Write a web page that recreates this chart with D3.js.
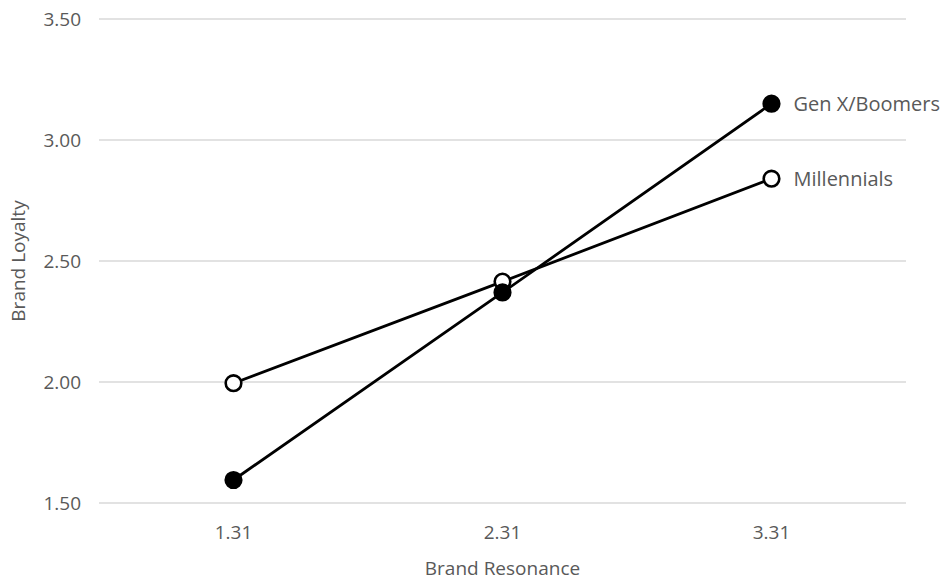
<!DOCTYPE html>
<html>
<head>
<meta charset="utf-8">
<script src="https://cdn.jsdelivr.net/npm/d3@7"></script>
<style>
body { margin: 0; background: #fff; }
text { font-family: "Open Sans", "Liberation Sans", sans-serif; fill: #595959; }
</style>
</head>
<body>
<div id="chart"></div>
<script>
var categories = ["1.31", "2.31", "3.31"];
var yTicks = [1.5, 2.0, 2.5, 3.0, 3.5];
var genX = [1.595, 2.37, 3.15];
var millennials = [1.995, 2.415, 2.84];

var series = [
    { name: "Millennials", values: millennials, fill: "#fff" },
    { name: "Gen X/Boomers", values: genX, fill: "#000" }
];

var width = 946, height = 580;
var margin = { left: 99, right: 40, top: 19, bottom: 77 };

var svg = d3.select("#chart").append("svg")
    .attr("width", width)
    .attr("height", height);

var x = d3.scaleBand()
    .domain(categories)
    .range([margin.left, width - margin.right]);

var y = d3.scaleLinear()
    .domain([1.5, 3.5])
    .range([height - margin.bottom, margin.top]);

// gridlines
svg.append("g")
    .selectAll("line")
    .data(yTicks)
    .enter().append("line")
    .attr("x1", margin.left)
    .attr("x2", width - margin.right)
    .attr("y1", function (d) { return y(d); })
    .attr("y2", function (d) { return y(d); })
    .attr("stroke", "#d9d9d9")
    .attr("stroke-width", 1.3);

// y tick labels
svg.append("g")
    .selectAll("text")
    .data(yTicks)
    .enter().append("text")
    .attr("x", 81)
    .attr("y", function (d) { return y(d); })
    .attr("dy", "0.35em")
    .attr("text-anchor", "end")
    .style("font-size", "19px")
    .text(function (d) { return d3.format(".2f")(d); });

// x tick labels
svg.append("g")
    .selectAll("text")
    .data(categories)
    .enter().append("text")
    .attr("x", function (d) { return x(d) + x.bandwidth() / 2; })
    .attr("y", 539)
    .attr("text-anchor", "middle")
    .style("font-size", "19px")
    .text(function (d) { return d; });

// axis titles
svg.append("text")
    .attr("x", x(categories[1]) + x.bandwidth() / 2)
    .attr("y", 575)
    .attr("text-anchor", "middle")
    .style("font-size", "19px")
    .text("Brand Resonance");

svg.append("text")
    .attr("transform", "translate(25," + y(2.5) + ") rotate(-90)")
    .attr("text-anchor", "middle")
    .style("font-size", "19px")
    .text("Brand Loyalty");

var line = d3.line()
    .x(function (d, i) { return x(categories[i]) + x.bandwidth() / 2; })
    .y(function (d) { return y(d); });

series.forEach(function (s) {
    var g = svg.append("g");
    g.append("path")
        .attr("d", line(s.values))
        .attr("fill", "none")
        .attr("stroke", "#000")
        .attr("stroke-width", 2.8);
    g.selectAll("circle")
        .data(s.values)
        .enter().append("circle")
        .attr("cx", function (d, i) { return x(categories[i]) + x.bandwidth() / 2; })
        .attr("cy", function (d) { return y(d); })
        .attr("r", 7.8)
        .attr("fill", s.fill)
        .attr("stroke", "#000")
        .attr("stroke-width", 2.6);
    var last = s.values[s.values.length - 1];
    g.append("text")
        .attr("x", x(categories[2]) + x.bandwidth() / 2 + 22)
        .attr("y", y(last))
        .attr("dy", "0.35em")
        .style("font-size", "20px")
        .text(s.name);
});
</script>
</body>
</html>
